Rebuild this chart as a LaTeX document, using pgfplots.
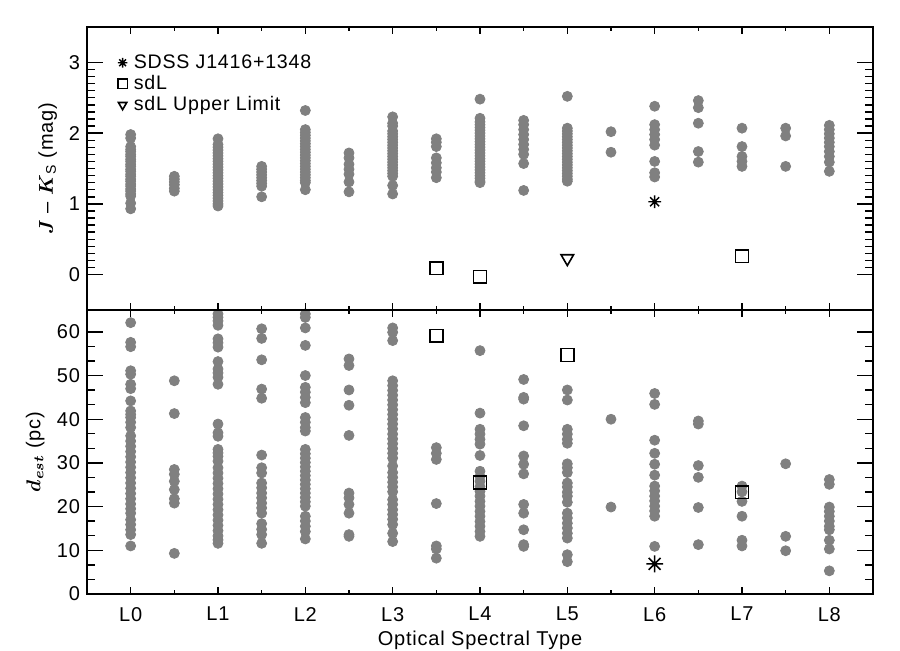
\documentclass[border=0pt]{standalone}
\usepackage{amsmath}
\usepackage{fontspec}
\setmainfont{Liberation Sans}[LetterSpace=4]
\usepackage{pgfplots}
\pgfplotsset{compat=1.18}
\definecolor{dotgray}{RGB}{128,128,128}
\pgfdeclareplotmark{star8}{%
 \pgfpathmoveto{\pgfqpoint{0pt}{\pgfplotmarksize}}\pgfpathlineto{\pgfqpoint{0pt}{-\pgfplotmarksize}}%
 \pgfpathmoveto{\pgfqpoint{\pgfplotmarksize}{0pt}}\pgfpathlineto{\pgfqpoint{-\pgfplotmarksize}{0pt}}%
 \pgfpathmoveto{\pgfqpoint{.707\pgfplotmarksize}{.707\pgfplotmarksize}}\pgfpathlineto{\pgfqpoint{-.707\pgfplotmarksize}{-.707\pgfplotmarksize}}%
 \pgfpathmoveto{\pgfqpoint{.707\pgfplotmarksize}{-.707\pgfplotmarksize}}\pgfpathlineto{\pgfqpoint{-.707\pgfplotmarksize}{.707\pgfplotmarksize}}%
 \pgfusepathqstroke}
\pgfplotsset{panel/.style={
  width=393pt, scale only axis,
  xmin=-0.5, xmax=8.5,
  xtick={0,1,2,3,4,5,6,7,8}, minor x tick num=1,
  tick align=inside, xtick pos=both, ytick pos=both,
  axis line style={line width=1pt},
  every tick/.style={black, line width=0.7pt},
  xtick style={/pgfplots/major tick length=3.5pt,/pgfplots/minor tick length=2pt},
  ytick style={/pgfplots/major tick length=8pt,/pgfplots/minor tick length=4pt},
  font=\fontsize{10}{12}\selectfont,
  /pgf/number format/assume math mode=true,
  xticklabel style={yshift=-3pt},
}}
\begin{document}
\begin{tikzpicture}
% ---------------- bottom panel ----------------
\begin{axis}[panel, name=bot, at={(0pt,0pt)}, anchor=south west,
  height=142pt, ymin=0, ymax=65, ytick={0,10,20,30,40,50,60}, minor y tick num=2,
  xticklabels={L0,L1,L2,L3,L4,L5,L6,L7,L8},
  xlabel={Optical Spectral Type},
  xlabel style={at={(axis description cs:0.5,-0.162)}, anchor=center},
  ylabel={$\boldsymbol{d_{est}}$ (pc)},
  ylabel style={at={(axis description cs:-0.066,0.5)}, anchor=center}]
\addplot[only marks, mark=*, mark size=2.5pt, color=dotgray] coordinates {
(0,62.1)(0,57.6)(0,56.6)(0,51.1)(0,50.3)(0,48.0)(0,47.0)(0,44.2)(0,41.9)(0,41.1)(0,40.4)(0,39.3)(0,38.1)
(0,36.2)(0,35.0)(0,33.8)(0,32.6)(0,31.4)(0,30.2)(0,29.0)(0,27.8)(0,26.6)(0,25.4)(0,24.2)(0,23.0)(0,21.8)(0,20.6)(0,19.5)(0,18.5)
(0,17.0)(0,15.9)(0,14.7)(0,13.6)(0,11.0)
(0.5,48.8)(0.5,41.3)(0.5,28.5)(0.5,27.4)(0.5,25.8)(0.5,23.9)(0.5,21.8)(0.5,20.8)(0.5,9.3)
(1,64.1)(1,63.3)(1,62.5)(1,61.5)(1,58.4)(1,57.5)(1,56.5)(1,53.2)(1,51.5)(1,50.6)(1,49.6)(1,48.0)(1,38.9)(1,36.9)(1,36.1)(1,33.1)(1,32.3)(1,31.5)(1,30.4)
(1,28.9)(1,27.7)(1,26.5)(1,25.3)(1,24.1)(1,22.9)(1,21.7)(1,20.5)(1,19.3)(1,18.1)(1,16.9)(1,15.7)(1,14.5)(1,13.3)(1,12.4)(1,11.6)
(1.5,60.7)(1.5,58.5)(1.5,53.6)(1.5,46.9)(1.5,44.8)(1.5,31.8)(1.5,28.9)(1.5,27.7)(1.5,25.4)(1.5,24.3)(1.5,23.1)(1.5,22.0)(1.5,20.8)(1.5,19.7)(1.5,18.5)(1.5,16.1)(1.5,14.8)(1.5,13.6)(1.5,11.6)
(2,64.1)(2,63.3)(2,60.9)(2,56.9)(2,50.0)(2,47.3)(2,46.2)(2,45.0)(2,43.8)(2,40.4)(2,39.3)(2,38.1)(2,37.3)
(2,33.1)(2,32.1)(2,31.1)(2,30.1)(2,29.1)(2,28.1)(2,27.1)(2,26.1)(2,25.1)(2,24.1)(2,23.1)(2,22.1)(2,21.1)(2,20.1)(2,17.8)(2,16.7)(2,15.5)(2,14.3)(2,12.6)
(2.5,53.8)(2.5,52.3)(2.5,46.7)(2.5,43.2)(2.5,36.3)(2.5,23.1)(2.5,22.0)(2.5,20.5)(2.5,18.5)(2.5,13.6)(2.5,13.2)
(3,60.9)(3,59.9)(3,58.0)(3,48.8)(3,47.7)(3,46.6)(3,45.5)(3,44.4)(3,43.3)(3,42.2)(3,41.1)(3,40.0)(3,38.9)(3,37.8)(3,36.6)
(3,35.5)(3,34.4)(3,33.3)(3,32.2)(3,31.1)(3,29.3)(3,27.8)(3,26.7)(3,25.6)(3,24.5)(3,23.4)(3,21.6)(3,20.5)(3,19.3)(3,18.2)(3,17.1)(3,15.9)(3,13.9)(3,12.0)
(3.5,33.5)(3.5,32.2)(3.5,30.8)(3.5,20.7)(3.5,11.0)(3.5,10.3)(3.5,8.2)
(4,55.7)(4,41.4)(4,37.7)(4,36.6)(4,35.4)(4,34.3)(4,31.7)(4,28.1)(4,26.9)(4,25.8)(4,24.6)(4,23.5)(4,22.4)(4,21.2)(4,20.1)(4,18.9)(4,17.8)(4,16.6)(4,15.5)(4,14.3)(4,13.2)
(4.5,49.1)(4.5,45.0)(4.5,44.6)(4.5,38.5)(4.5,31.6)(4.5,29.7)(4.5,27.5)(4.5,20.5)(4.5,18.5)(4.5,14.7)(4.5,11.3)(4.5,10.9)
(5,46.7)(5,44.4)(5,37.7)(5,36.6)(5,35.4)(5,34.5)(5,29.8)(5,28.9)(5,27.8)(5,25.4)(5,24.5)(5,23.3)(5,22.4)(5,21.0)(5,18.5)(5,17.4)(5,16.2)(5,15.1)(5,13.9)(5,12.8)(5,9.0)(5,7.4)
(5.5,40.0)(5.5,19.9)
(6,45.9)(6,43.4)(6,35.2)(6,32.2)(6,29.7)(6,27.2)(6,24.7)(6,23.6)(6,22.4)(6,21.3)(6,20.1)(6,19.0)(6,17.8)(6,10.9)
(6.5,39.6)(6.5,38.9)(6.5,29.4)(6.5,26.7)(6.5,19.8)(6.5,11.3)
(7,24.7)(7,23.4)(7,21.2)(7,17.8)(7,12.3)(7,11.0)
(7.5,29.8)(7.5,13.2)(7.5,9.9)
(8,26.2)(8,25.1)(8,19.9)(8,18.9)(8,17.8)(8,16.7)(8,15.5)(8,14.7)(8,12.3)(8,10.3)(8,5.3)
};
\addplot[only marks, mark=star8, mark size=4.2pt, mark options={black, line width=0.8pt}] coordinates {(6,6.9)};
\addplot[only marks, mark=square, mark size=3.2pt, mark options={black, line width=0.8pt}] coordinates {(3.5,59.1)(4,25.5)(5,54.7)(7,23.3)};
\end{axis}
% ---------------- top panel ----------------
\begin{axis}[panel, name=top, at={(0pt,142pt)}, anchor=south west,
  height=141.5pt, ymin=-0.5, ymax=3.5, ytick={0,1,2,3}, minor y tick num=9,
  xticklabels={},
  ylabel={$\boldsymbol{J}$ -- $\boldsymbol{K}_{\text{S}}$ (mag)},
  ylabel style={at={(axis description cs:-0.05,0.5)}, anchor=center},
  legend style={draw=none, fill=none, at={(axis description cs:0,1)}, anchor=north west,
    xshift=12pt, yshift=-9.5pt, row sep=-2pt, font=\fontsize{9.8}{11}\selectfont},
  legend cell align=left,
  legend image code/.code={\draw[#1, mark size=2.4pt] plot coordinates {(0pt,0pt)}; \path (-2.4pt,0pt) (3.4pt,0pt);}]
\addplot[only marks, mark=*, mark size=2.5pt, color=dotgray, forget plot] coordinates {
(0,1.98)(0,1.93)(0,1.81)(0,1.77)(0,1.74)(0,1.70)(0,1.67)(0,1.63)(0,1.60)(0,1.56)(0,1.53)(0,1.49)(0,1.46)(0,1.42)(0,1.39)(0,1.35)(0,1.32)(0,1.28)(0,1.25)(0,1.21)(0,1.18)(0,1.14)(0,1.11)(0,1.01)(0,0.93)
(0.5,1.39)(0.5,1.35)(0.5,1.31)(0.5,1.27)(0.5,1.22)(0.5,1.18)
(1,1.92)(1,1.84)(1,1.80)(1,1.76)(1,1.72)(1,1.68)(1,1.64)(1,1.60)(1,1.56)(1,1.52)(1,1.48)(1,1.44)(1,1.40)(1,1.36)(1,1.32)(1,1.28)(1,1.24)(1,1.20)(1,1.16)(1,1.12)(1,1.08)(1,1.04)(1,1.00)(1,0.97)
(1.5,1.53)(1.5,1.49)(1.5,1.45)(1.5,1.41)(1.5,1.37)(1.5,1.33)(1.5,1.29)(1.5,1.25)(1.5,1.10)
(2,2.32)(2,2.05)(2,2.01)(2,1.97)(2,1.93)(2,1.89)(2,1.85)(2,1.81)(2,1.77)(2,1.73)(2,1.69)(2,1.65)(2,1.61)(2,1.57)(2,1.53)(2,1.49)(2,1.45)(2,1.41)(2,1.37)(2,1.33)(2,1.30)(2,1.20)
(2.5,1.72)(2.5,1.65)(2.5,1.56)(2.5,1.49)(2.5,1.42)(2.5,1.31)(2.5,1.17)
(3,2.23)(3,2.14)(3,2.10)(3,2.03)(3,1.99)(3,1.95)(3,1.91)(3,1.87)(3,1.83)(3,1.79)(3,1.75)(3,1.71)(3,1.67)(3,1.63)(3,1.59)(3,1.55)(3,1.51)(3,1.47)(3,1.43)(3,1.39)(3,1.26)(3,1.14)
(3.5,1.92)(3.5,1.87)(3.5,1.81)(3.5,1.65)(3.5,1.58)(3.5,1.51)(3.5,1.45)(3.5,1.37)
(4,2.48)(4,2.21)(4,2.16)(4,2.12)(4,2.08)(4,2.04)(4,2.00)(4,1.96)(4,1.92)(4,1.88)(4,1.84)(4,1.80)(4,1.76)(4,1.72)(4,1.68)(4,1.64)(4,1.60)(4,1.56)(4,1.52)(4,1.48)(4,1.44)(4,1.40)(4,1.36)(4,1.32)(4,1.30)
(4.5,2.18)(4.5,2.12)(4.5,2.05)(4.5,1.98)(4.5,1.91)(4.5,1.84)(4.5,1.77)(4.5,1.70)(4.5,1.57)(4.5,1.19)
(5,2.52)(5,2.07)(5,2.03)(5,1.99)(5,1.95)(5,1.91)(5,1.87)(5,1.83)(5,1.79)(5,1.75)(5,1.71)(5,1.67)(5,1.63)(5,1.59)(5,1.55)(5,1.51)(5,1.47)(5,1.43)(5,1.39)(5,1.35)(5,1.32)
(5.5,2.02)(5.5,1.73)
(6,2.38)(6,2.12)(6,2.05)(6,1.98)(6,1.91)(6,1.83)(6,1.60)(6,1.44)(6,1.38)
(6.5,2.46)(6.5,2.36)(6.5,2.14)(6.5,1.74)(6.5,1.59)
(7,2.07)(7,1.81)(7,1.67)(7,1.60)(7,1.53)
(7.5,2.07)(7.5,1.96)(7.5,1.53)
(8,2.11)(8,2.05)(8,1.99)(8,1.93)(8,1.87)(8,1.81)(8,1.74)(8,1.67)(8,1.59)(8,1.46)
};
\addplot[only marks, mark=star8, mark size=3.2pt, mark options={black, line width=0.7pt}] coordinates {(6,1.03)};
\addlegendentry{SDSS J1416+1348}
\addplot[only marks, mark=square, mark size=3.2pt, mark options={black, line width=0.8pt}] coordinates {(3.5,0.09)(4,-0.03)(7,0.26)};
\addlegendentry{sdL}
\addplot[only marks, mark=triangle, mark size=3.6pt, mark options={black, line width=0.8pt, rotate=180}] coordinates {(5,0.23)};
\addlegendentry{sdL Upper Limit}
\end{axis}
\pgfresetboundingbox
\path (-43.5pt,-28pt) rectangle (406.5pt,297pt);
\end{tikzpicture}
\end{document}
